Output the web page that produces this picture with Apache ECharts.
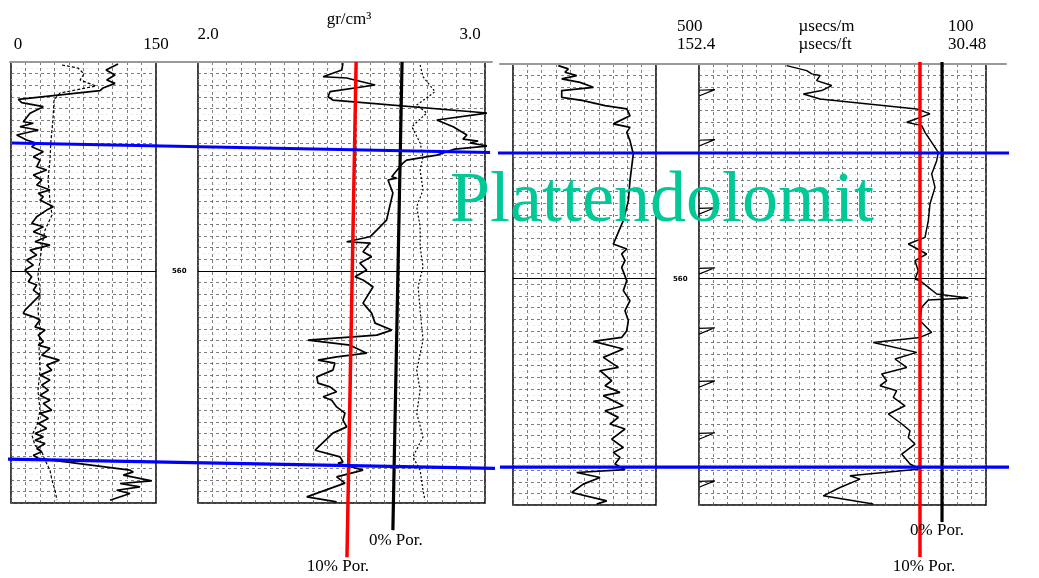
<!DOCTYPE html>
<html><head><meta charset="utf-8">
<script src="https://cdn.jsdelivr.net/npm/echarts@6/dist/echarts.min.js"></script>
<style>html,body{margin:0;padding:0;background:#fff}#c{width:1039px;height:578px}</style>
</head><body><div id="c"></div>
<script>
// ---------- data (depth in m, values in curve units) ----------
const grTickLabels = ['0', '150'];
const rhobTickLabels = ['2.0', '3.0'];
const dtTickLabels = [['500', '152.4'], ['100', '30.48']];
const rhobUnit = 'gr/cm³';
const dtUnits = ['µsecs/m', 'µsecs/ft'];
const depthLabels = [560];
const formationName = 'Plattendolomit';
const porLabels = ['0% Por.', '10% Por.'];

const grSolid = [
[110.7,542.17],[98.3,542.69],[107.6,543.12],[99.0,543.55],[107.6,543.84],[95.2,544.24],[92.1,544.47],
[7.6,545.22],[11.1,545.5],[33.4,545.85],[19.7,546.42],[12.7,547.15],[23.1,547.28],[9.3,547.58],[28.2,547.86],
[5.9,548.29],[16.2,548.72],[26.6,549.01],[21.4,549.30],[33.4,549.73],[23.1,550.16],[30.0,550.45],[26.6,551.03],
[36.9,551.31],[23.1,551.74],[31.8,552.17],[26.6,552.60],[40.3,553.03],[28.2,553.32],[33.4,553.61],[30.0,553.90],
[43.8,554.47],[36.9,554.76],[26.6,555.34],[21.4,555.91],[33.4,556.20],[23.1,556.63],[36.9,557.06],[24.8,557.49],
[40.3,557.78],[19.7,558.21],[26.6,558.64],[16.2,559.07],[23.1,559.50],[14.5,559.93],[21.4,560.51],[17.9,560.94],
[26.6,561.22],[23.1,561.66],[30.0,562.09],[24.8,562.52],[14.5,563.38],[12.7,563.66],[23.1,563.96],[30.0,564.24],
[24.8,564.82],[35.2,565.10],[28.2,565.53],[33.4,566.11],[28.2,566.40],[40.3,566.68],[31.8,567.26],[50.0,567.69],
[36.9,568.12],[42.1,568.55],[30.0,568.98],[40.3,569.41],[31.8,569.84],[38.6,570.28],[30.0,570.71],[40.3,571.14],
[33.4,571.42],[42.1,572.00],[30.0,572.28],[38.6,572.72],[28.2,573.15],[36.9,573.58],[24.8,574.01],[33.4,574.30],
[24.8,574.59],[35.2,574.87],[26.6,575.30],[31.8,575.59],[23.1,575.88],[28.2,576.16],[123.1,577.17],[126.5,577.32],
[116.2,577.60],[145.6,578.09],[112.8,578.32],[133.4,578.61],[109.3,578.90],[123.1,579.18],[102.4,579.76]
];
const grDashed = [
[52.8,542.26],[69.3,542.52],[75.5,543.03],[71.4,543.55],[87.9,544.07],[50.7,544.67],[44.5,545.28],[43.4,547.00],
[41.4,548.72],[40.3,550.45],[38.3,552.17],[40.3,553.90],[42.4,555.19],[35.2,556.48],[32.1,557.78],[30.0,559.07],
[27.9,560.36],[30.0,561.66],[27.9,563.38],[30.0,565.10],[29.0,566.83],[30.0,568.55],[27.9,570.28],[30.0,572.00],
[26.9,573.29],[21.7,574.16],[24.8,575.02],[32.1,575.62],[35.2,576.31],[40.3,577.17],[42.4,578.03],[45.5,578.90],[47.6,579.76]
];
const rhobSolid = [
[2.505,542.09],[2.501,542.69],[2.436,543.27],[2.518,543.38],[2.617,543.98],[2.460,544.56],[2.453,544.99],[2.470,545.28],
[3.010,546.40],[2.832,547.00],[2.889,547.58],[2.937,548.29],[2.923,548.64],[2.976,548.81],[2.948,548.98],[3.010,549.24],
[2.895,549.50],[2.832,550.02],[2.727,550.45],[2.714,550.71],[2.675,551.89],[2.692,552.00],[2.662,552.17],[2.679,553.29],
[2.657,555.62],[2.623,556.48],[2.599,557.06],[2.518,557.49],[2.599,557.60],[2.575,558.35],[2.605,558.78],[2.564,559.33],
[2.588,559.93],[2.547,560.51],[2.575,560.79],[2.610,561.37],[2.575,562.78],[2.605,563.64],[2.617,564.50],[2.675,565.10],
[2.623,565.53],[2.383,565.97],[2.530,566.40],[2.588,567.09],[2.483,567.41],[2.418,567.69],[2.477,567.95],[2.470,568.55],
[2.414,569.13],[2.418,569.67],[2.460,569.99],[2.483,570.42],[2.436,570.85],[2.466,571.14],[2.483,571.72],[2.512,572.26],
[2.505,572.86],[2.518,573.44],[2.470,573.98],[2.408,575.45],[2.495,576.03],[2.505,576.46],[2.488,576.57],[2.575,577.17],
[2.483,577.75],[2.512,578.29],[2.379,579.47],[2.483,579.91]
];
const rhobDashed = [
[2.774,542.26],[2.784,543.27],[2.826,544.56],[2.762,545.71],[2.797,546.40],[2.745,547.58],[2.774,548.98],[2.784,550.16],
[2.774,551.31],[2.784,553.03],[2.762,554.47],[2.774,556.20],[2.774,557.92],[2.784,559.65],[2.767,561.37],[2.774,563.38],
[2.784,565.97],[2.762,568.55],[2.774,570.28],[2.762,572.26],[2.784,574.30],[2.749,576.03],[2.774,577.17],[2.784,578.90],[2.791,579.76]
];
const trk3Solid = [
[47.5,541.64],[58.0,541.92],[54.5,542.21],[66.8,542.50],[51.1,542.78],[70.3,543.08],[84.2,543.51],[51.1,543.79],
[51.1,544.37],[73.7,544.65],[96.5,545.08],[119.3,545.37],[122.7,545.95],[105.2,546.66],[122.7,546.96],[119.3,547.39],
[122.7,548.10],[126.2,549.25],[122.7,551.55],[121.0,553.27],[115.7,555.00],[105.2,557.01],[119.3,557.44],[114.0,557.87],
[117.5,558.45],[114.0,559.02],[119.3,560.17],[115.7,561.03],[122.7,561.89],[117.5,562.76],[121.0,563.62],[119.3,564.48],
[114.0,565.06],[84.2,565.40],[115.7,566.06],[94.7,566.78],[110.5,567.64],[91.3,567.93],[103.5,568.79],[96.5,569.22],
[112.2,569.80],[94.7,570.08],[115.7,570.95],[96.5,571.38],[110.5,571.95],[101.8,572.52],[117.5,572.95],[103.5,573.82],
[115.7,574.54],[105.2,574.97],[112.2,575.40],[107.0,575.97],[117.5,576.46],[66.8,576.70],[91.3,577.13],[73.7,577.70],
[61.6,578.42],[98.3,579.14],[87.8,579.42]
];
const dtSolid = [
[377.8,541.64],[349.9,542.07],[342.9,542.35],[331.4,542.50],[336.0,542.93],[315.1,543.36],[329.0,543.79],[354.6,544.08],
[331.4,544.51],[196.6,545.37],[178.1,545.80],[210.5,546.52],[189.6,546.81],[185.0,547.39],[175.7,548.25],[166.5,549.11],
[168.7,549.83],[175.7,550.97],[171.1,552.13],[178.1,553.56],[180.4,555.00],[185.0,556.44],[208.3,557.01],[182.7,557.87],
[199.0,558.45],[194.4,559.31],[199.0,560.02],[192.0,560.17],[168.7,561.32],[124.7,561.66],[180.4,561.83],[189.6,562.47],
[192.0,563.62],[175.7,564.63],[192.0,565.06],[257.1,565.49],[196.6,566.35],[226.8,566.92],[210.5,567.65],[245.4,568.21],
[238.4,568.79],[247.7,569.22],[224.5,569.65],[229.2,570.23],[212.9,570.95],[236.2,571.66],[219.9,572.39],[205.9,573.10],
[208.3,573.68],[199.0,574.25],[217.5,575.11],[205.9,575.97],[192.0,576.40],[289.6,576.98],[275.6,577.27],[303.5,577.99],
[326.8,578.71],[257.1,579.42]
];
const pipDepths = [543.96, 548.27, 554.14, 559.31, 564.48, 569.05, 573.53, 577.67];
// porosity reference lines (density units / sonic units, depth)
const por10Rhob = [[2.551,542.0],[2.519,584.67]];
const por0Rhob  = [[2.711,542.0],[2.679,582.34]];
const por10Dt   = [[192.0,541.33],[192.0,583.98]];
const por0Dt    = [[161.3,541.33],[161.3,580.97]];
// formation top / base of Plattendolomit (panel fraction, depth)
const topLeft  = [[0.004,548.98],[0.996,549.80]];
const baseLeft = [[-0.010,576.22],[1.017,577.02]];
const topRight  = [[-0.020,549.17],[1.065,549.17]];
const baseRight = [[0.000,576.23],[1.018,576.23]];

// ---------- chart ----------
const FONT = "'Liberation Serif','Times New Roman',serif";
const GRIDC = '#5e5e5e';
const chart = echarts.init(document.getElementById('c'), null, {renderer: 'canvas'});
const near = (a, b) => Math.abs(a - b) < 1e-6;

function trackGrid(left, top, width) {
  return {left, top, width, height: 441, show: true, borderColor: '#000', borderWidth: 1.5,
    backgroundColor: 'transparent', containLabel: false, outerBoundsMode: 'none'};
}
const split = {show: true, lineStyle: {color: GRIDC, width: 0.8, type: [3, 3]}};
function xAx(gi, min, max, interval, extra) {
  return Object.assign({gridIndex: gi, type: 'value', min, max, interval, position: 'top', nameMoveOverlap: false,
    axisLine: {show: false}, axisTick: {show: false}, axisLabel: {show: false}, splitLine: split}, extra || {});
}
function yAx(gi, min, max) {
  return {gridIndex: gi, type: 'value', min, max, interval: 1, inverse: true,
    axisLine: {show: false}, axisTick: {show: false}, axisLabel: {show: false},
    splitLine: split, minorTick: {show: false, splitNumber: 2},
    minorSplitLine: {show: true, lineStyle: {color: '#dadada', width: 0.6, type: [2, 3]}}};
}
const txt = {fontFamily: FONT, fontSize: 17, color: '#000', lineHeight: 18};

const grids = [
  trackGrid(11, 62, 145),
  trackGrid(198, 62, 287),
  trackGrid(513, 64, 143),
  trackGrid(699, 64, 287),
  {left: 10, top: 62, width: 482, height: 441, show: false, containLabel: false, outerBoundsMode: 'none'},
  {left: 500, top: 64, width: 506, height: 441, show: false, containLabel: false, outerBoundsMode: 'none'}
];
const LMIN = 542, LMAX = 580, RMIN = 541.5, RMAX = 579.5;

const xAxes = [
  xAx(0, 0, 150, 15, {axisLabel: {show: true, margin: 8, ...txt,
    formatter: v => near(v, 0) ? '{a|' + grTickLabels[0] + '}' : near(v, 150) ? '{b|' + grTickLabels[1] + '}' : '',
    rich: {a: {...txt, padding: [0, 0, 0, 14]}, b: {...txt}}}}),
  xAx(1, 2.0, 3.0, 0.05, {axisLabel: {show: true, margin: 18, ...txt,
    formatter: v => near(v, 2) ? '{a|' + rhobTickLabels[0] + '}' : near(v, 3) ? '{b|' + rhobTickLabels[1] + '}' : '',
    rich: {a: {...txt, padding: [0, 0, 0, 20]}, b: {...txt, padding: [0, 30, 0, 0]}}},
    name: rhobUnit, nameLocation: 'middle', nameGap: 33,
    nameTextStyle: {...txt, padding: [0, 0, 0, 15]}}),
  xAx(2, 0, 150, 15),
  xAx(3, 100, 500, 20, {inverse: true, axisLabel: {show: true, margin: 10, ...txt,
    formatter: v => near(v, 500) ? '{a|' + dtTickLabels[0][0] + '}\n{a|' + dtTickLabels[0][1] + '}'
      : near(v, 100) ? '{b|' + dtTickLabels[1][0] + '}\n{b|' + dtTickLabels[1][1] + '}' : '',
    rich: {a: {...txt, width: 44, align: 'left'}, b: {...txt, width: 76, align: 'left'}}},
    name: '{u|' + dtUnits[0] + '}\n{u|' + dtUnits[1] + '}', nameLocation: 'middle', nameGap: 10,
    nameTextStyle: {...txt, padding: [0, 28, 0, 0], rich: {u: {...txt, width: 60, align: 'left'}}}}),
  {gridIndex: 4, type: 'value', min: 0, max: 1, position: 'top', z: 5,
    axisLine: {show: true, onZero: false, lineStyle: {color: '#9a9a9a', width: 2}},
    axisTick: {show: false}, axisLabel: {show: false}, splitLine: {show: false}},
  {gridIndex: 5, type: 'value', min: 0, max: 1, position: 'top', z: 5,
    axisLine: {show: true, onZero: false, lineStyle: {color: '#9a9a9a', width: 2}},
    axisTick: {show: false}, axisLabel: {show: false}, splitLine: {show: false}}
];
const yAxes = [
  yAx(0, LMIN, LMAX), yAx(1, LMIN, LMAX), yAx(2, RMIN, RMAX), yAx(3, RMIN, RMAX),
  {gridIndex: 4, type: 'value', min: LMIN, max: LMAX, inverse: true, show: false},
  {gridIndex: 5, type: 'value', min: RMIN, max: RMAX, inverse: true, show: false}
];

function depthMark(showLabel, dist) {
  return {symbol: 'none', silent: true, animation: false,
    lineStyle: {color: '#000', width: 1.2, type: 'solid'},
    label: {show: showLabel, position: 'end', distance: dist, formatter: p => String(p.value),
      fontFamily: 'DejaVu Sans', fontSize: 7, fontWeight: 'bold', color: '#000'},
    data: depthLabels.map(d => ({yAxis: d}))};
}
function curve(xi, data, width, dash, extra) {
  return Object.assign({type: 'line', xAxisIndex: xi, yAxisIndex: xi, data, showSymbol: false, symbol: 'none',
    animation: false, lineStyle: {color: '#000', width, type: dash || 'solid'}, z: 3}, extra || {});
}
function porLine(xi, data, color, width) {
  return {type: 'line', xAxisIndex: xi, yAxisIndex: xi, data, clip: false, showSymbol: false, symbol: 'none',
    animation: false, lineStyle: {color, width}, z: 6};
}
function porLabel(xi, data, label, offset, dist, color) {
  return {type: 'scatter', xAxisIndex: xi, yAxisIndex: xi, clip: false, silent: true, animation: false,
    symbol: 'circle', symbolSize: 0.5, itemStyle: {color, opacity: 1}, z: 8,
    label: {show: true, position: 'bottom', distance: dist, offset, formatter: () => label,
      fontFamily: FONT, fontSize: 17, color: '#000', opacity: 1},
    data: [data[data.length - 1]]};
}
function blue(xi, data) {
  return {type: 'line', xAxisIndex: xi, yAxisIndex: xi, data, clip: false, showSymbol: false, symbol: 'none',
    animation: false, lineStyle: {color: '#0000ff', width: 3.2}, z: 7};
}
const pipData = [];
pipDepths.forEach(d => { pipData.push([500, d + 0.3], [478, d - 0.25], [500, d - 0.2], ['-', '-']); });

const series = [
  curve(0, grSolid, 1.7, 'solid', {markLine: depthMark(true, 16)}),
  curve(0, grDashed, 1.2, [3, 2]),
  curve(1, rhobSolid, 1.7, 'solid', {markLine: depthMark(false, 0)}),
  curve(1, rhobDashed, 1.2, [2, 2]),
  curve(2, trk3Solid, 1.7, 'solid', {markLine: depthMark(true, 17)}),
  curve(3, dtSolid, 1.5, 'solid', {markLine: depthMark(false, 0)}),
  curve(3, pipData, 1.2, 'solid', {connectNulls: false}),
  porLine(1, por10Rhob, '#ff0000', 3.5),
  porLine(1, por0Rhob, '#000000', 3.2),
  porLine(3, por10Dt, '#ff0000', 3.5),
  porLine(3, por0Dt, '#000000', 3.2),
  porLabel(1, por10Rhob, porLabels[1], [-9, 0], 1, '#ff0000'),
  porLabel(1, por0Rhob, porLabels[0], [3, 0], 2, '#000000'),
  porLabel(3, por10Dt, porLabels[1], [4, 0], 1, '#ff0000'),
  porLabel(3, por0Dt, porLabels[0], [-5, 0], 0, '#000000'),
  blue(4, topLeft), blue(4, baseLeft), blue(5, topRight), blue(5, baseRight)
];

chart.setOption({
  animation: false,
  backgroundColor: '#ffffff',
  grid: grids, xAxis: xAxes, yAxis: yAxes, series,
  graphic: [{type: 'text', z: 100, left: 450, top: 166,
    style: {text: formationName, font: '72px ' + FONT, fill: '#00c896'}}]
});
</script></body></html>
